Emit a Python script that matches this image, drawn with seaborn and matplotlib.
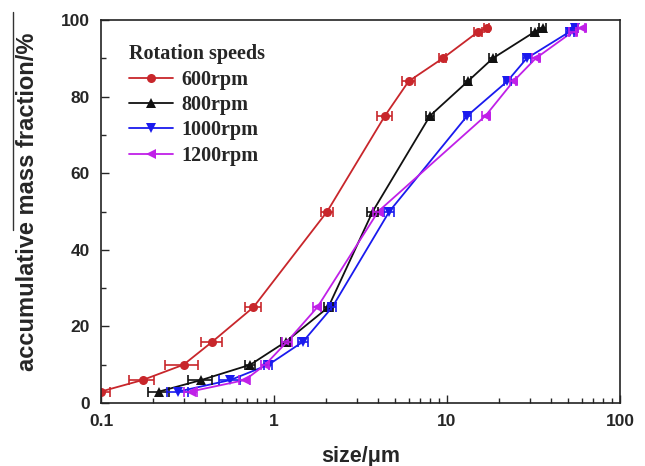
import numpy as np
import pandas as pd
import seaborn as sns
import matplotlib.pyplot as plt
from matplotlib.ticker import LogLocator, MultipleLocator, FixedLocator, FixedFormatter
from matplotlib.lines import Line2D

# cumulative levels (same for every speed)
levels = [3, 6, 10, 16, 25, 50, 75, 84, 90, 97, 98]

size_600 = [0.10, 0.174, 0.30, 0.44, 0.76, 2.03, 4.38, 6.0, 9.45, 15.2, 17.0]
size_800 = [0.217, 0.38, 0.73, 1.17, 2.06, 3.72, 7.98, 13.2, 18.4, 32.3, 35.7]
size_1000 = [0.28, 0.56, 0.93, 1.47, 2.17, 4.64, 13.1, 22.3, 28.9, 51.4, 55.0]
size_1200 = [0.33, 0.68, 0.89, 1.19, 1.78, 4.0, 16.7, 24.2, 32.6, 53.5, 60.0]

err_600 = [0.012, 0.028, 0.065, 0.06, 0.08, 0.15, 0.45, 0.5, 0.4, 0.8, 0.6]
err_800 = [0.03, 0.06, 0.05, 0.07, 0.12, 0.25, 0.4, 0.6, 0.8, 1.5, 1.5]
err_1000 = [0.04, 0.08, 0.05, 0.1, 0.12, 0.3, 0.6, 1.0, 1.5, 2.5, 2.5]
err_1200 = [0.03, 0.05, 0.05, 0.08, 0.1, 0.25, 0.8, 1.0, 1.5, 2.5, 2.5]

speeds = ['600rpm', '800rpm', '1000rpm', '1200rpm']
sizes = [size_600, size_800, size_1000, size_1200]
errs = [err_600, err_800, err_1000, err_1200]
colors = ['#c8262b', '#111111', '#1a1aee', '#c020e8']
markers = ['o', '^', 'v', '<']

df = pd.concat([pd.DataFrame({'size': s, 'frac': levels, 'err': e, 'speed': sp})
                for s, e, sp in zip(sizes, errs, speeds)], ignore_index=True)

sns.set_style('ticks')
plt.rcParams['font.family'] = ['Liberation Sans', 'DejaVu Sans']

fig = plt.figure(figsize=(6.45, 4.66), dpi=100)
ax = fig.add_axes([0.1566, 0.1352, 0.8046, 0.8218])

sns.lineplot(data=df, x='size', y='frac', hue='speed', style='speed',
             palette=dict(zip(speeds, colors)), markers=dict(zip(speeds, markers)),
             dashes=False, sort=False, estimator=None, ax=ax,
             linewidth=1.3, markersize=6.5, markeredgewidth=0)

for sp, c in zip(speeds, colors):
    d = df[df['speed'] == sp]
    ax.errorbar(d['size'], d['frac'], xerr=d['err'], fmt='none', ecolor=c,
                elinewidth=1.2, capsize=3.5, capthick=1.2)

ax.set_xscale('log')
ax.set_xlim(0.1, 100)
ax.set_ylim(0, 100)
ax.xaxis.set_major_locator(FixedLocator([0.1, 1, 10, 100]))
ax.xaxis.set_major_formatter(FixedFormatter(['0.1', '1', '10', '100']))
ax.xaxis.set_minor_locator(LogLocator(base=10, subs=np.arange(2, 10)))
ax.yaxis.set_major_locator(MultipleLocator(20))
ax.yaxis.set_minor_locator(MultipleLocator(10))
ax.tick_params(which='both', direction='in', top=False, right=False, width=1.0)
ax.tick_params(which='major', length=6, labelsize=12.5, pad=8)
ax.tick_params(which='minor', length=3.5)
for lab in ax.get_xticklabels() + ax.get_yticklabels():
    lab.set_fontweight('bold')
for sp in ax.spines.values():
    sp.set_linewidth(1.2)
    sp.set_visible(True)
    sp.set_color('#222222')

ax.set_xlabel('size/μm', fontsize=15.5, fontweight='bold', labelpad=12)
ax.set_ylabel('accumulative mass fraction/%', fontsize=17, fontweight='bold')
ax.yaxis.set_label_coords(-0.12, 0.525)

serif_bold = {'family': 'Liberation Serif', 'weight': 'bold', 'size': 14.5}
leg = ax.legend(title='Rotation speeds', loc='upper left', frameon=False,
                bbox_to_anchor=(0.054, 0.937), handlelength=2.2, handletextpad=0.4,
                labelspacing=0.27, borderaxespad=0, borderpad=0, prop=serif_bold)
leg.get_title().set_fontproperties(serif_bold)
leg._legend_box.align = 'left'

# overline drawn beside the rotated y label
fig.add_artist(Line2D([0.0202, 0.0202], [0.506, 0.975], color='#333333', linewidth=1.0))

fig.savefig('out.png', dpi=100)
